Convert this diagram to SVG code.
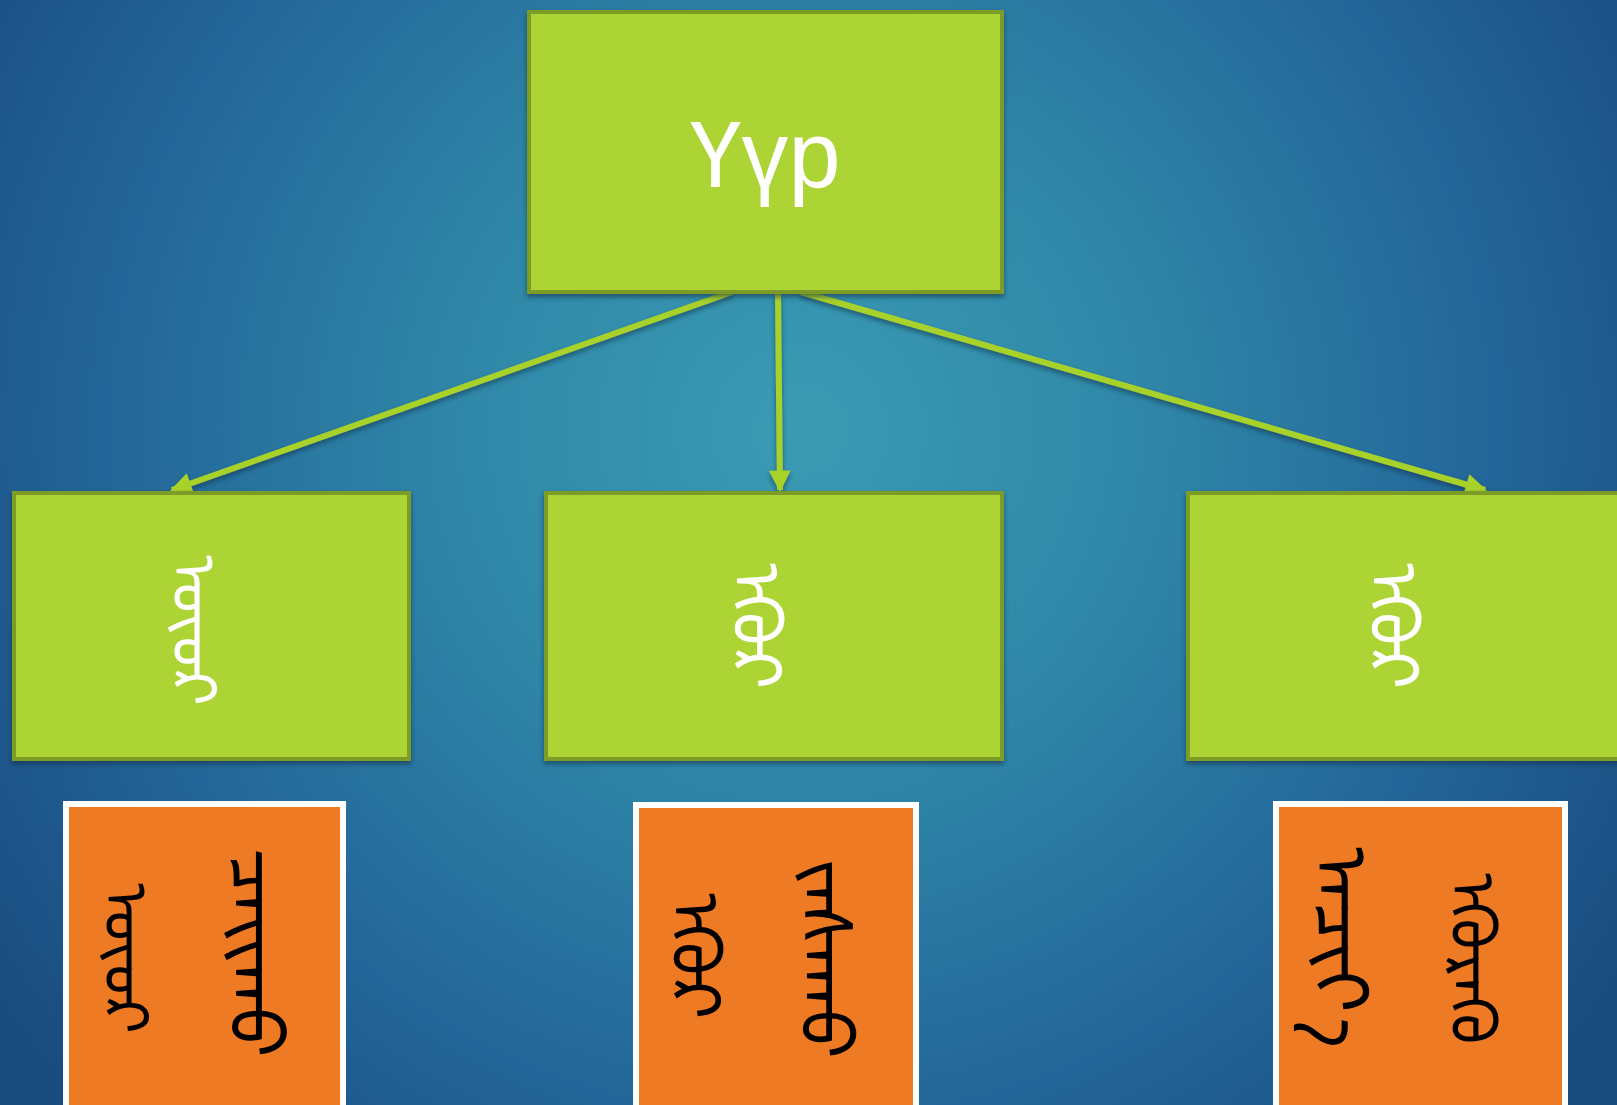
<svg xmlns="http://www.w3.org/2000/svg" width="1617" height="1105" viewBox="0 0 1617 1105">
<defs>
<radialGradient id="bg" gradientUnits="userSpaceOnUse" cx="800" cy="430" r="980">
<stop offset="0" stop-color="#3a9cb4"/>
<stop offset="0.35" stop-color="#2f87a8"/>
<stop offset="0.7" stop-color="#236699"/>
<stop offset="1" stop-color="#1a4c80"/>
</radialGradient>
<filter id="sh" x="-10%" y="-10%" width="120%" height="130%">
<feDropShadow dx="0" dy="3" stdDeviation="2.5" flood-color="#0a2a40" flood-opacity="0.6"/>
</filter>
<marker id="ah" viewBox="0 0 10 10" refX="9" refY="5" markerWidth="4" markerHeight="3.6" orient="auto" markerUnits="strokeWidth">
<path d="M0,0 L10,5 L0,10 z" fill="#a8d22c"/>
</marker>
<style>
.g{fill:#add434;stroke:#7c9c25;stroke-width:4}
.o{fill:#ee7a24;stroke:#ffffff;stroke-width:6}
.c{stroke:#a8d22c;stroke-width:6;fill:none;marker-end:url(#ah)}
.mw{font-family:"Noto Sans Mongolian","Mongolian Baiti","Noto Sans",sans-serif;font-size:60px;fill:#ffffff;writing-mode:vertical-lr}
.mb{font-family:"Noto Sans Mongolian","Mongolian Baiti","Noto Sans",sans-serif;font-size:60px;fill:#000000;writing-mode:vertical-lr}
.t{font-family:"Liberation Sans",Arial,sans-serif;font-size:94px;fill:#ffffff}
</style>
</defs>
<rect x="0" y="0" width="1617" height="1105" fill="url(#bg)"/>
<g id="connectors" filter="url(#sh)">
<line class="c" x1="732" y1="292" x2="172" y2="490"/>
<line class="c" x1="778" y1="294" x2="780" y2="490"/>
<line class="c" x1="801" y1="292" x2="1485" y2="490"/>
</g>
<g id="node-root">
<rect class="g" x="529" y="12" width="473" height="280" filter="url(#sh)"/>
<text class="t" x="765" y="187" text-anchor="middle" textLength="151" lengthAdjust="spacingAndGlyphs">Үүр</text>
</g>
<g id="node-left">
<rect class="g" x="14" y="493" width="395" height="266" filter="url(#sh)"/>
<text class="mw" x="208" y="555" style="font-size:62px">ᠦᠦᠷ</text>
</g>
<g id="node-middle">
<rect class="g" x="546" y="493" width="456" height="266" filter="url(#sh)"/>
<text class="mw" x="772" y="563" style="font-size:69px">ᠡᠭᠦᠷ</text>
</g>
<g id="node-right">
<rect class="g" x="1188" y="493" width="440" height="266" filter="url(#sh)"/>
<text class="mw" x="1409" y="563" style="font-size:69px">ᠡᠭᠦᠷ</text>
</g>
<g id="node-left-detail">
<rect class="o" x="66" y="804" width="277" height="320"/>
<text class="mb" x="140" y="883" style="font-size:62px">ᠦᠦᠷ</text>
<text class="mb" x="272" y="848" style="font-size:74px">ᠴᠠᠢᠬᠤ</text>
</g>
<g id="node-middle-detail">
<rect class="o" x="636" y="805" width="280" height="320"/>
<text class="mb" x="711" y="893" style="font-size:69px">ᠡᠭᠦᠷ</text>
<text class="mb" x="842" y="859" style="font-size:72px">ᠵᠠᠰᠠᠬᠤ</text>
</g>
<g id="node-right-detail">
<rect class="o" x="1276" y="804" width="289" height="320"/>
<text class="mb" x="1358" y="847" style="font-size:76px">ᠠᠴᠢᠶ᠎ᠠ</text>
<text class="mb" x="1487" y="873" style="font-size:64px">ᠡᠭᠦᠷᠡᠬᠦ</text>
</g>
</svg>
